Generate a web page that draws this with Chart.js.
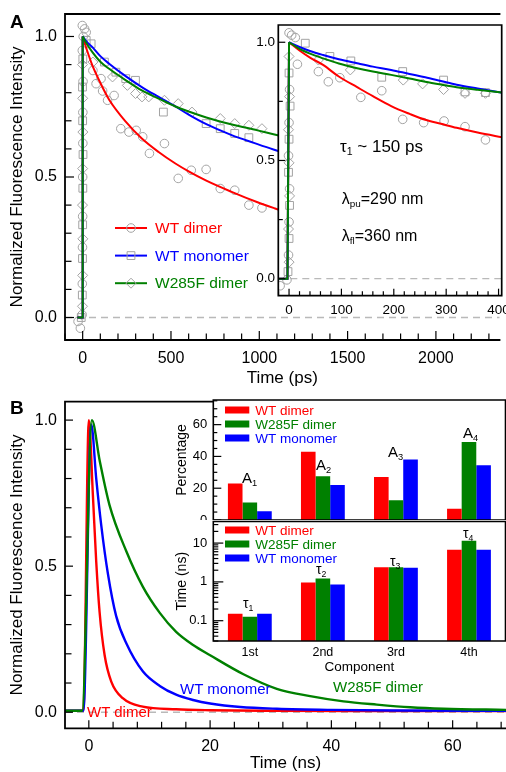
<!DOCTYPE html>
<html>
<head>
<meta charset="utf-8">
<script src="https://cdn.jsdelivr.net/npm/chart.js@4.4.1/dist/chart.umd.min.js"></script>
<style>
html, body { margin: 0; padding: 0; width: 506px; height: 772px; overflow: hidden; background: #fff; }
canvas { position: absolute; }
.note { position: absolute; line-height: 1; font-family: "Liberation Sans", Arial, sans-serif; white-space: nowrap; }
.sb { font-size: 0.62em; position: relative; top: 0.3em; }
</style>
</head>
<body>
<canvas id="mainA" width="506" height="390" style="left:0px;top:0px"></canvas>
<canvas id="insetA" width="277" height="310" style="left:240px;top:10px"></canvas>
<canvas id="mainB" width="506" height="382" style="left:0px;top:390px"></canvas>
<canvas id="ampB" width="356" height="128" style="left:165px;top:392px"></canvas>
<canvas id="tauB" width="356" height="160" style="left:165px;top:520px"></canvas>
<script>
// ---- panel A, main plot (ps) ----
const riseTime = [-30, -3, 0]
const riseValue = [0, 0, 1]
const fitTimeA = [0, 25, 55, 100, 150, 245, 335, 430, 525, 600, 700, 840, 990, 1080, 1300, 1600, 1900, 2200, 2400]
const fitWTDimerA = [1.0, 0.95, 0.897, 0.835, 0.775, 0.696, 0.637, 0.589, 0.548, 0.52, 0.487, 0.448, 0.41, 0.39, 0.345, 0.295, 0.255, 0.22, 0.195]
const fitWTMonomerA = [1.0, 0.98, 0.962, 0.93, 0.903, 0.858, 0.82, 0.785, 0.751, 0.722, 0.688, 0.65, 0.617, 0.598, 0.555, 0.505, 0.46, 0.42, 0.395]
const fitW285FA = [1.0, 0.972, 0.944, 0.91, 0.885, 0.844, 0.808, 0.779, 0.751, 0.733, 0.712, 0.688, 0.666, 0.652, 0.62, 0.578, 0.54, 0.505, 0.485]

const dotTimeWTDimerA = [-26, -13, -3, -2, -1, 0, 0, 1, 1, 2, -2, 3, -2, 11, 20, 58, 76, 104, 113, 141, 178, 216, 262, 303, 340, 378, 463, 541, 615, 699, 779, 861, 941, 1015]
const dotValWTDimerA = [-0.014, -0.038, 0.01, 0.12, 0.25, 0.36, 0.5, 0.62, 0.73, 0.84, 0.95, 1.0, 1.039, 1.027, 1.015, 0.879, 0.832, 0.85, 0.806, 0.773, 0.79, 0.672, 0.66, 0.666, 0.643, 0.584, 0.619, 0.495, 0.524, 0.527, 0.459, 0.453, 0.40, 0.39]
const dotTimeWTMonomerA = [-8, -2, -1, 0, 1, 2, 0, -1, 1, 20, 48, 123, 188, 244, 299, 457, 699, 779, 861, 941]
const dotValWTMonomerA = [0.0, 0.08, 0.21, 0.33, 0.46, 0.58, 0.7, 0.82, 0.92, 0.986, 0.974, 0.909, 0.873, 0.85, 0.844, 0.731, 0.69, 0.672, 0.655, 0.64]
const dotTimeW285FA = [-1, 0, 1, -1, 0, 1, 0, -1, 58, 169, 253, 299, 336, 374, 463, 541, 619, 779, 861, 941, 1015]
const dotValW285FA = [0.04, 0.15, 0.28, 0.40, 0.53, 0.66, 0.78, 0.9, 0.909, 0.856, 0.826, 0.797, 0.785, 0.785, 0.773, 0.761, 0.731, 0.708, 0.69, 0.684, 0.672]

// ---- panel A, inset (first 400 ps) ----
const fitTimeIn = [0, 20, 40, 65, 95, 130, 160, 195, 230, 260, 290, 320, 360, 410]
const fitWTDimerIn = [1.0, 0.965, 0.935, 0.904, 0.855, 0.81, 0.772, 0.73, 0.697, 0.672, 0.655, 0.638, 0.618, 0.597]
const fitWTMonomerIn = [1.0, 0.98, 0.963, 0.946, 0.928, 0.911, 0.897, 0.883, 0.866, 0.852, 0.836, 0.82, 0.804, 0.785]
const fitW285FIn = [1.0, 0.972, 0.952, 0.932, 0.91, 0.89, 0.876, 0.862, 0.847, 0.833, 0.821, 0.81, 0.799, 0.787]
const dotTimeWTDimerIn = [-17, -4, -1, 0, 1, -1, 0, 1, 0, 5, 12, 16, 56, 75, 97, 137, 177, 217, 257, 296, 336, 375]
const dotValWTDimerIn = [-0.03, -0.005, 0.1, 0.24, 0.38, 0.52, 0.66, 0.8, 1.04, 1.03, 1.02, 0.907, 0.876, 0.833, 0.85, 0.767, 0.795, 0.674, 0.66, 0.667, 0.643, 0.587]
const dotTimeWTMonomerIn = [-2, 0, 1, -1, 0, 2, 0, 31, 78, 118, 177, 217, 295, 336, 375]
const dotValWTMonomerIn = [0.03, 0.17, 0.31, 0.45, 0.59, 0.73, 0.87, 0.996, 0.94, 0.921, 0.852, 0.876, 0.84, 0.79, 0.787]
const dotTimeW285FIn = [0, -1, 1, 0, -1, 1, 0, 56, 117, 218, 255, 295, 336, 375]
const dotValW285FIn = [0.07, 0.21, 0.35, 0.49, 0.63, 0.77, 0.94, 0.925, 0.883, 0.84, 0.824, 0.80, 0.784, 0.784]

// ---- panel B, decays (ns) ----
const timeWTDimerB = [-3.9, -0.9, 0, 0.67, 1.22, 1.77, 2.6, 3.7, 5.6, 8.9, 14.4, 20, 30, 45, 69]
const valWTDimerB = [0.005, 0.005, 1.0, 0.743, 0.515, 0.344, 0.196, 0.105, 0.048, 0.019, 0.01, 0.007, 0.005, 0.004, 0.004]
const timeWTMonomerB = [-3.9, -0.9, 0.4, 1.22, 2.05, 3.14, 4.5, 6.2, 8.9, 11.7, 14.4, 17.2, 20, 25, 31, 40, 50, 69]
const valWTMonomerB = [0.005, 0.005, 0.985, 0.80, 0.64, 0.475, 0.33, 0.235, 0.14, 0.09, 0.06, 0.042, 0.03, 0.018, 0.012, 0.008, 0.006, 0.005]
const timeW285FB = [-3.9, -1.1, 0.5, 1.8, 3.4, 6.2, 8.9, 11.7, 14.4, 17.2, 20, 25.5, 31, 36.5, 42, 47.5, 53, 58.5, 69]
const valW285FB = [0.005, 0.005, 1.0, 0.86, 0.71, 0.55, 0.43, 0.34, 0.275, 0.23, 0.195, 0.13, 0.08, 0.055, 0.037, 0.026, 0.017, 0.012, 0.008]

// ---- panel B, inset bars ----
const components = ['1st', '2nd', '3rd', '4th']
const ampWTDimer = [23, 43, 27, 7]
const ampW285F = [11, 27.5, 12.5, 49]
const ampWTMonomer = [5.5, 22, 38, 34.5]
const tauWTDimer = [0.15, 0.97, 2.4, 6.7]
const tauW285F = [0.127, 1.22, 2.4, 11.5]
const tauWTMonomer = [0.15, 0.86, 2.3, 6.7]

const RED = '#ff0000', BLUE = '#0000ff', GREEN = '#008000', GREY = '#a3a3a3'
const FONT = '"Liberation Sans", Arial, sans-serif'
Chart.defaults.font.family = FONT
Chart.defaults.color = '#000'
Chart.defaults.animation = false

function drawMarker(ctx, style, x, y){
    ctx.save()
    ctx.strokeStyle = GREY
    ctx.lineWidth = 1
    ctx.beginPath()
    if (style === 'circle') ctx.arc(x, y, 4.3, 0, Math.PI * 2)
    else if (style === 'rect') ctx.rect(x - 3.9, y - 3.9, 7.8, 7.8)
    else { ctx.moveTo(x - 5, y); ctx.lineTo(x, y - 5); ctx.lineTo(x + 5, y); ctx.lineTo(x, y + 5); ctx.closePath() }
    ctx.stroke()
    ctx.restore()
}

// frame box, inward ticks, dashed zero line, white inset background
const framePlugin = {
    id: 'frame',
    beforeDraw(chart, args, o){
        if (!o.fill) return
        const {ctx, chartArea: a} = chart
        ctx.save()
        ctx.fillStyle = '#fff'
        ctx.fillRect(a.left, a.top, a.right - a.left, a.bottom - a.top)
        ctx.restore()
    },
    beforeDatasetsDraw(chart, args, o){
        if (!o.zero) return
        const {ctx, chartArea: a} = chart
        const y = chart.scales.y.getPixelForValue(0)
        ctx.save()
        ctx.strokeStyle = '#b9b9b9'
        ctx.lineWidth = 1.3
        ctx.setLineDash([7, 5])
        ctx.beginPath(); ctx.moveTo(a.left, y); ctx.lineTo(a.right, y); ctx.stroke()
        ctx.restore()
    },
    afterDraw(chart, args, o){
        const {ctx, chartArea: a} = chart
        ctx.save()
        ctx.strokeStyle = '#000'
        ctx.lineWidth = 1.2
        for (const s of Object.values(chart.scales)) {
            if (!s.options.display || s.type === 'category') continue
            s.ticks.forEach(t => {
                const v = t.value
                if (v < s.min - 1e-9 || v > s.max + 1e-9) return
                if (s.type === 'logarithmic') {
                    const m = v / Math.pow(10, Math.floor(Math.log10(v) + 1e-9))
                    if (Math.abs(m - Math.round(m)) > 1e-6) return
                }
                const len = (t.label !== '' && t.label != null) ? o.major : o.minor
                const p = s.getPixelForValue(v)
                ctx.beginPath()
                if (s.isHorizontal()) { ctx.moveTo(p, a.bottom); ctx.lineTo(p, a.bottom - len) }
                else { ctx.moveTo(a.left, p); ctx.lineTo(a.left + len, p) }
                ctx.stroke()
            })
        }
        const sides = o.sides || 'tlbr'
        ctx.lineWidth = o.lw || 1.6
        ctx.lineCap = 'square'
        ctx.beginPath()
        if (sides.includes('t')) { ctx.moveTo(a.left, a.top); ctx.lineTo(a.right, a.top) }
        if (sides.includes('l')) { ctx.moveTo(a.left, a.top); ctx.lineTo(a.left, a.bottom) }
        if (sides.includes('b')) { ctx.moveTo(a.left, a.bottom); ctx.lineTo(a.right, a.bottom) }
        if (sides.includes('r')) { ctx.moveTo(a.right, a.top); ctx.lineTo(a.right, a.bottom) }
        ctx.stroke()
        ctx.restore()
    }
}

// hand placed legend drawn from the datasets
const keyPlugin = {
    id: 'key',
    afterDraw(chart, args, o){
        if (o.x === undefined) return
        const {ctx} = chart
        ctx.save()
        ctx.font = `${o.size}px ${FONT}`
        ctx.textBaseline = 'middle'
        let row = 0
        chart.data.datasets.forEach(ds => {
            if (!ds.keyMark) return
            const y = o.y + row * o.dy
            row++
            if (o.kind === 'box') {
                ctx.fillStyle = ds.backgroundColor
                ctx.fillRect(o.x, y - o.h / 2, o.w, o.h)
                ctx.fillStyle = ds.backgroundColor
            } else {
                ctx.strokeStyle = ds.borderColor
                ctx.lineWidth = ds.borderWidth
                ctx.beginPath(); ctx.moveTo(o.x, y); ctx.lineTo(o.x + o.w, y); ctx.stroke()
                drawMarker(ctx, ds.keyMark, o.x + o.w / 2, y)
                ctx.fillStyle = ds.borderColor
            }
            ctx.fillText(ds.label, o.x + o.w + o.gap, y + 1)
        })
        ctx.restore()
    }
}

const pts = (xs, ys) => xs.map((x, i) => ({x, y: ys[i]}))
const curve = (label, xs, ys, color, order, width, keyMark) => ({
    label, keyMark, order, data: pts(xs, ys), showLine: true, borderColor: color,
    borderWidth: width, pointRadius: 0, cubicInterpolationMode: 'monotone', fill: false
})
const rise = (color, order, width) => ({
    data: pts(riseTime, riseValue), showLine: true, borderColor: color, borderWidth: width,
    pointRadius: 0, tension: 0, order
})
const dots = (xs, ys, style, r) => ({
    data: pts(xs, ys), showLine: false, pointStyle: style, pointRadius: r,
    borderColor: GREY, backgroundColor: 'rgba(0,0,0,0)', borderWidth: 1, order: 10
})
const noPad = s => { s.paddingTop = 0; s.paddingBottom = 0; s.paddingLeft = 0; s.paddingRight = 0 }
const fixW = w => s => { s.width = w; noPad(s) }
const fixH = h => s => { s.height = h; noPad(s) }
const every = (n, fmt) => v => Math.abs(v / n - Math.round(v / n)) < 1e-6 ? fmt(v) : ''
const one = v => v.toFixed(1)
const noGrid = {display: false, drawTicks: false}

function linAxis(min, max, step, label, size, pad, fit, title){
    const ax = {
        type: 'linear', min, max, afterFit: fit,
        grid: noGrid, border: {display: false},
        ticks: {stepSize: step, autoSkip: false, includeBounds: false, maxRotation: 0,
            callback: label, font: {size}, padding: pad, color: '#000'}
    }
    if (title) ax.title = title
    return ax
}
const baseOpts = {responsive: false, animation: false, events: []}

// panel A main
new Chart(document.getElementById('mainA'), {
    type: 'scatter',
    data: {datasets: [
        curve('WT dimer', fitTimeA, fitWTDimerA, RED, 3, 2, 'circle'),
        curve('WT monomer', fitTimeA, fitWTMonomerA, BLUE, 2, 2, 'rect'),
        curve('W285F dimer', fitTimeA, fitW285FA, GREEN, 1, 2, 'rectRot'),
        rise(RED, 3, 2), rise(BLUE, 2, 2), rise(GREEN, 1, 2),
        dots(dotTimeWTDimerA, dotValWTDimerA, 'circle', 4.3),
        dots(dotTimeWTMonomerA, dotValWTMonomerA, 'rect', 5.5),
        dots(dotTimeW285FA, dotValW285FA, 'rectRot', 5)
    ]},
    options: {...baseOpts,
        layout: {padding: {top: 14, right: 0, left: 0, bottom: 0}},
        scales: {
            x: linAxis(-100, 2360, 100, every(500, String), 16, 9, fixH(50),
                {display: true, text: 'Time (ps)', font: {size: 17, lineHeight: 1}, padding: {top: 0, bottom: 3.5}, color: '#000'}),
            y: linAxis(-0.08, 1.08, 0.1, every(0.5, one), 16, 8, fixW(65),
                {display: true, text: 'Normalized Fluorescence Intensity', font: {size: 17, lineHeight: 1}, padding: {top: 9, bottom: 0}, color: '#000'})
        },
        plugins: {legend: {display: false}, tooltip: {enabled: false},
            frame: {sides: 'tlb', lw: 1.8, major: 9, minor: 6.5, zero: true},
            key: {x: 115, y: 228, dy: 27.6, w: 32, gap: 8, size: 15.5, kind: 'line'}}
    },
    plugins: [framePlugin, keyPlugin]
})

// panel A inset
new Chart(document.getElementById('insetA'), {
    type: 'scatter',
    data: {datasets: [
        curve('WT dimer', fitTimeIn, fitWTDimerIn, RED, 3, 2),
        curve('WT monomer', fitTimeIn, fitWTMonomerIn, BLUE, 2, 2),
        curve('W285F dimer', fitTimeIn, fitW285FIn, GREEN, 1, 2),
        rise(RED, 3, 2), rise(BLUE, 2, 2), rise(GREEN, 1, 2),
        dots(dotTimeWTDimerIn, dotValWTDimerIn, 'circle', 4.3),
        dots(dotTimeWTMonomerIn, dotValWTMonomerIn, 'rect', 5.5),
        dots(dotTimeW285FIn, dotValW285FIn, 'rectRot', 5)
    ]},
    options: {...baseOpts,
        layout: {padding: {top: 15, right: 15.3, left: 0, bottom: 0}},
        scales: {
            x: linAxis(-20.5, 406, 20, every(100, String), 13.5, 6.2, fixH(24.3)),
            y: linAxis(-0.072, 1.073, 0.25, every(0.5, one), 13.5, 3.3, fixW(38.3))
        },
        plugins: {legend: {display: false}, tooltip: {enabled: false},
            frame: {sides: 'tlbr', lw: 1.7, major: 7, minor: 4.5, zero: true, fill: true}}
    },
    plugins: [framePlugin]
})

// panel B main
new Chart(document.getElementById('mainB'), {
    type: 'scatter',
    data: {datasets: [
        curve('WT dimer', timeWTDimerB, valWTDimerB, RED, 3, 2.4),
        curve('WT monomer', timeWTMonomerB, valWTMonomerB, BLUE, 2, 2.4),
        curve('W285F dimer', timeW285FB, valW285FB, GREEN, 1, 2.4)
    ]},
    options: {...baseOpts,
        layout: {padding: {top: 11.7, right: 0, left: 0, bottom: 0}},
        scales: {
            x: linAxis(-3.93, 68.8, 4, every(20, String), 16, 8.8, fixH(43.7),
                {display: true, text: 'Time (ns)', font: {size: 17, lineHeight: 1}, padding: {top: 0, bottom: 0.5}, color: '#000'}),
            y: linAxis(-0.055, 1.063, 0.1, every(0.5, one), 16, 8, fixW(65),
                {display: true, text: 'Normalized Fluorescence Intensity', font: {size: 17, lineHeight: 1}, padding: {top: 9, bottom: 0}, color: '#000'})
        },
        plugins: {legend: {display: false}, tooltip: {enabled: false},
            frame: {sides: 'tlb', lw: 1.8, major: 8, minor: 6.5, zero: true}}
    },
    plugins: [framePlugin]
})

// panel B inset, amplitudes
const barSet = (label, vals, color) => ({label, data: vals, backgroundColor: color, borderWidth: 0,
    categoryPercentage: 0.6, barPercentage: 1.0, keyMark: true})
const boxKey = y => ({x: 60, y, dy: 14, w: 24.3, h: 7, gap: 6, size: 13.5, kind: 'box'})

new Chart(document.getElementById('ampB'), {
    type: 'bar',
    data: {labels: components, datasets: [
        barSet('WT dimer', ampWTDimer, RED),
        barSet('W285F dimer', ampW285F, GREEN),
        barSet('WT monomer', ampWTMonomer, BLUE)
    ]},
    options: {...baseOpts,
        layout: {padding: {top: 8, right: 15.5, left: 0, bottom: 0}},
        scales: {
            x: {type: 'category', display: false},
            y: linAxis(0, 75.5, 5, every(20, String), 13, 6, fixW(48.3),
                {display: true, text: 'Percentage', font: {size: 14, lineHeight: 1}, padding: {top: 9.7, bottom: 0}, color: '#000'})
        },
        plugins: {legend: {display: false}, tooltip: {enabled: false},
            frame: {sides: 'tlbr', lw: 1.6, major: 8, minor: 4, fill: true},
            key: boxKey(18)}
    },
    plugins: [framePlugin, keyPlugin]
})

// panel B inset, lifetimes (log)
new Chart(document.getElementById('tauB'), {
    type: 'bar',
    data: {labels: components, datasets: [
        barSet('WT dimer', tauWTDimer, RED),
        barSet('W285F dimer', tauW285F, GREEN),
        barSet('WT monomer', tauWTMonomer, BLUE)
    ]},
    options: {...baseOpts,
        layout: {padding: {top: 1.5, right: 15.5, left: 0, bottom: 0}},
        scales: {
            x: {type: 'category', afterFit: fixH(39), grid: noGrid, border: {display: false},
                ticks: {font: {size: 12.5}, padding: 4.5, color: '#000', maxRotation: 0},
                title: {display: true, text: 'Component', font: {size: 13.5, lineHeight: 1}, padding: {top: 0, bottom: 6}, color: '#000'}},
            y: {type: 'logarithmic', min: 0.03, max: 36, afterFit: fixW(48.3),
                grid: noGrid, border: {display: false},
                ticks: {autoSkip: false, font: {size: 13}, padding: 6, color: '#000',
                    callback: v => { const l = Math.log10(v); return Math.abs(l - Math.round(l)) < 1e-9 ? String(v) : '' }},
                title: {display: true, text: 'Time (ns)', font: {size: 14, lineHeight: 1}, padding: {top: 9.7, bottom: 0}, color: '#000'}}
        },
        plugins: {legend: {display: false}, tooltip: {enabled: false},
            frame: {sides: 'tlbr', lw: 1.6, major: 10, minor: 5, fill: true},
            key: boxKey(10)}
    },
    plugins: [framePlugin, keyPlugin]
})

// text notes: left edge and baseline in page pixels
function note(html, left, base, size, color, bold){
    const d = document.createElement('div')
    d.className = 'note'
    d.innerHTML = html
    d.style.left = left + 'px'
    d.style.top = (base - size * 0.85) + 'px'
    d.style.fontSize = size + 'px'
    d.style.color = color || '#000'
    if (bold) d.style.fontWeight = 'bold'
    document.body.appendChild(d)
}
note('A', 10, 28, 19, '#000', true)
note('B', 10, 414, 19, '#000', true)
note('τ<span class="sb">1</span> ~ 150 ps', 340, 152, 17)
note('λ<span class="sb">pu</span>=290 nm', 341.7, 205, 16)
note('λ<span class="sb">fl</span>=360 nm', 341.7, 242, 16)
note('WT dimer', 87, 717, 15, RED)
note('WT monomer', 180, 694, 15, BLUE)
note('W285F dimer', 333, 692, 15, GREEN)
note('A<span class="sb">1</span>', 242, 483, 15)
note('A<span class="sb">2</span>', 316, 470, 15)
note('A<span class="sb">3</span>', 388, 457, 15)
note('A<span class="sb">4</span>', 463, 438, 15)
note('τ<span class="sb">1</span>', 243, 608, 14)
note('τ<span class="sb">2</span>', 316, 574, 14)
note('τ<span class="sb">3</span>', 390, 566, 14)
note('τ<span class="sb">4</span>', 463, 538, 14)
</script>
</body>
</html>
